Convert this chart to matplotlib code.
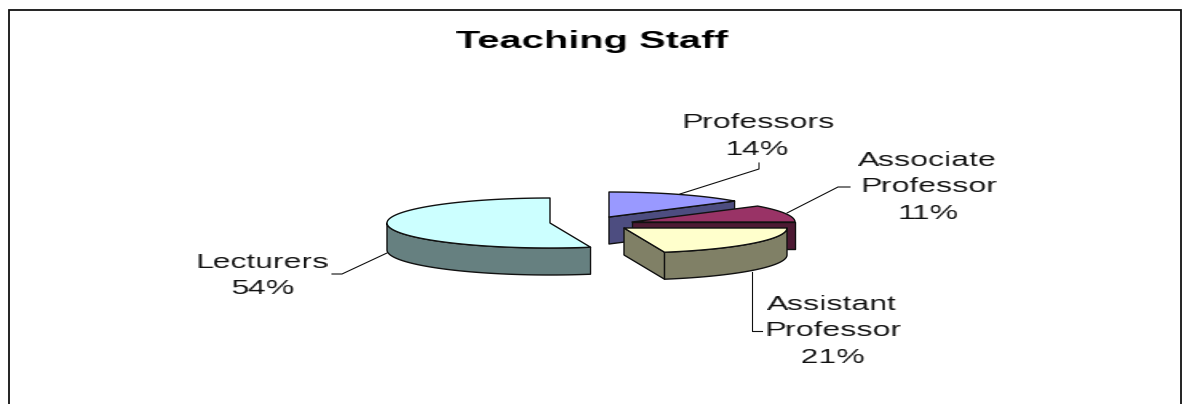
import numpy as np
import matplotlib
matplotlib.use("Agg")
import matplotlib.pyplot as plt
from matplotlib.patches import Polygon

categories = ["Professors", "Associate\nProfessor", "Assistant\nProfessor", "Lecturers"]
shares = [14, 11, 21, 54]

top_colors = ["#9999FF", "#993366", "#FFFFCC", "#CCFFFF"]
side_colors = ["#4D4D80", "#4D1A33", "#808066", "#668080"]
# exploded centre of each wedge, in image pixels
centers = [(609, 217), (632, 222), (624, 228), (550, 223)]
label_pos = [(758, 155), (928, 219), (833, 363), (262, 294)]
leaders = [
    [(680, 194), (759, 169), (759, 163)],
    [(787, 213), (838, 187), (850, 187)],
    [(752, 272), (752, 331), (762, 331)],
    [(387, 253), (342, 274), (332, 274)],
]
RX, RY, DEPTH = 163, 25, 27
LINE = "#111111"
plt.rcParams["font.family"] = ["Liberation Sans", "DejaVu Sans"]


def stretch(factor):
    """Widen rendered text horizontally, as in the stretched original."""
    def _filter(image, dpi):
        h, w = image.shape[:2]
        new_w = int(round(w * factor))
        xs = (np.arange(new_w) + 0.5) / factor - 0.5
        out = np.zeros((h, new_w, image.shape[2]))
        for row in range(h):
            for c in range(image.shape[2]):
                out[row, :, c] = np.interp(xs, np.arange(w), image[row, :, c])
        return out, -(new_w - w) / 2, 0
    return _filter


fig = plt.figure(figsize=(11.82, 4.04), dpi=100)
ax = fig.add_axes([0, 0, 1, 1])
ax.set_xlim(0, 1182)
ax.set_ylim(404, 0)
ax.axis("off")

# outer frame (open at the bottom edge)
ax.plot([8.5, 8.5, 1180.5, 1180.5], [404, 9.5, 9.5, 404], color=LINE, lw=1.3,
        solid_joinstyle="miter")

fractions = np.cumsum([0] + shares) / sum(shares)


def rim(center, a0, a1, n=80):
    t = np.linspace(a0, a1, n) * 2 * np.pi
    return np.column_stack([center[0] + RX * np.sin(t), center[1] - RY * np.cos(t)])


def poly(points, color, z):
    ax.add_patch(Polygon(points, closed=True, facecolor=color, edgecolor=LINE,
                         lw=1.0, joinstyle="round", zorder=z))


for i, cat in enumerate(categories):
    c = np.array(centers[i], dtype=float)
    a0, a1 = fractions[i], fractions[i + 1]
    z = 2 + i if i < 3 else 1
    down = np.array([0, DEPTH])
    # flat cut face that runs from the centre to the wedge's far rim
    if i < 3:
        edge = rim(c, a1, a1, 1)[0]
        poly([c, edge, edge + down, c + down], side_colors[i], z)
    # outer wall, for the part of the rim that faces the viewer
    lo, hi = max(a0, 0.25), min(a1, 0.75)
    if hi > lo:
        arc = rim(c, lo, hi)
        poly(np.vstack([arc, (arc + down)[::-1]]), side_colors[i], z)
    # top surface
    poly(np.vstack([c, rim(c, a0, a1)]), top_colors[i], z + 0.5)

# leader lines
for pts in leaders:
    xs, ys = zip(*pts)
    ax.plot(xs, ys, color=LINE, lw=0.8, zorder=10)

# labels
for cat, share, (x, y) in zip(categories, shares, label_pos):
    ax.text(x, y, f"{cat}\n{share}%", ha="center", va="baseline", fontsize=14.4,
            color="#111111", linespacing=1.5, multialignment="center",
            agg_filter=stretch(1.6), zorder=11)

ax.text(592.5, 48, "Teaching Staff", ha="center", va="baseline", fontsize=16.6,
        fontweight="bold", color="black", agg_filter=stretch(1.74), zorder=11)

fig.savefig("out.png", dpi=100, facecolor="white")
